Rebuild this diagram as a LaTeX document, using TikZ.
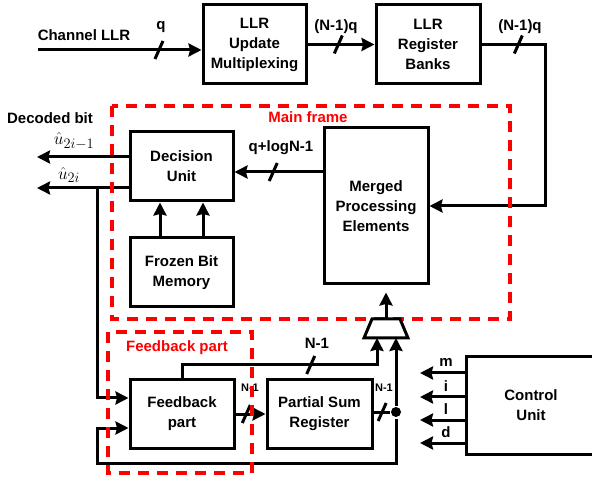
\documentclass[tikz,border=0pt]{standalone}
\usepackage{fontspec}
\setmainfont{Liberation Sans}
\usetikzlibrary{arrows.meta,calc}

\begin{document}
\begin{tikzpicture}[x=1pt, y=-1pt, >={Stealth[length=13pt,width=13pt,inset=1.5pt]},
  line width=3pt, font=\fontsize{15}{20}\selectfont\bfseries,
  blk/.style={draw, align=center, inner sep=0pt},
  frame/.style={draw=red, line width=3.4pt, dash pattern=on 11pt off 8pt},
  redlab/.style={text=red},
  small/.style={font=\fontsize{11}{13}\selectfont\bfseries},
  ulab/.style={font=\fontsize{19}{20}\selectfont},
  busmark/.pic={\draw[-, line width=3pt] (-4,9) -- (4,-9);}]
\useasboundingbox (0,0) rectangle (592,478);
% blocks
\node[blk, minimum width=103, minimum height=79] (upd) at (254.5,44.5) {LLR\\Update\\Multiplexing};
\node[blk, minimum width=104, minimum height=79] (reg) at (428,44.5) {LLR\\Register\\Banks};
\node[blk, minimum width=103, minimum height=69] (dec) at (181.5,166.5) {Decision\\Unit};
\node[blk, minimum width=103, minimum height=69] (frz) at (181.5,272.5) {Frozen Bit\\Memory};
\node[blk, minimum width=104, minimum height=156] (mpe) at (376,206) {Merged\\Processing\\Elements};
\node[blk, minimum width=104, minimum height=68] (fbp) at (182,414) {Feedback\\part};
\node[blk, minimum width=105, minimum height=68] (psr) at (319.5,414) {Partial Sum\\Register};
\node[blk, minimum width=130, minimum height=97] (ctl) at (531,405.5) {Control\\Unit};
\node[circle, fill, inner sep=0pt, minimum size=10] (dot) at (396,412) {};
% input side
\coordinate (chin) at (38,50);
\draw[->] (chin) -- pic[pos=.74]{busmark} (chin -| upd.west);
\node (llrin) at (84,35) {Channel LLR};
\node (qin) at (161,27) {q};
\draw[->] (upd) -- pic[pos=.46]{busmark} (reg);
\node (nq1) at (336,27) {(N-1)q};
\coordinate (rt) at (545,44.5);
\draw[->] (reg) -- pic[pos=.58]{busmark} (rt) |- (mpe);
\node (nq2) at (520,27) {(N-1)q};
% main frame
\draw[->] (mpe.west |- 0,172) -- pic[pos=.56]{busmark} (dec.east |- 0,172);
\node (qlog) at (281,148) {q+logN-1};
\foreach \x in {160,203} \draw[->] (frz.north -| \x,0) -- (dec.south -| \x,0);
\coordinate (o1) at (37,157); \coordinate (o2) at (37,188);
\draw[->] (dec.west |- o1) -- (o1);
\draw[->] (dec.west |- o2) -- (o2);
\node[ulab] (u1) at (74,141) {$\hat{u}_{2i-1}$};
\node[ulab] (u2) at (69,175) {$\hat{u}_{2i}$};
\node (dbit) at (50,118) {Decoded bit};
% mux corners
\coordinate (muxbl) at (364,338); \coordinate (muxtl) at (372,319);
\coordinate (muxtr) at (400,319); \coordinate (muxbr) at (408,338);
\coordinate (mux) at (386,319);
% feedback loop
\coordinate (br) at (97,188);
\draw[->] (br) |- (fbp.west |- 0,398);
\draw[->] (fbp) -- pic[pos=.36]{busmark} (psr);
\node[small] (n1a) at (250,388) {N-1};
\coordinate (fbtop) at (377,365);
\draw[->] (fbp.north) |- pic[pos=.83]{busmark} (fbtop) -- (fbtop |- muxbl);
\node (n1b) at (317,343) {N-1};
\draw (psr.east |- dot) -- pic[pos=.54]{busmark} (dot);
\node[small] (n1c) at (384,388) {N-1};
\draw[->] (dot) -- (dot |- muxbl);
\coordinate (lp) at (97,463);
\draw[->] (dot) |- (lp) |- (fbp.west |- 0,428);
% control signals
\foreach \y/\t in {373/m,397/i,420/l,443/d} {
  \coordinate (c\t) at (420,\y);
  \draw[->] (ctl.west |- c\t) -- (c\t);
  \node (l\t) at (446,\y-11) {\t};
}
% frames
\draw[frame] (112,106) rectangle (510,319);
\node[redlab] (mfl) at (308,117) {Main frame};
\draw[frame] (108,332) rectangle (252,473);
\node[redlab] (fbl) at (177,348) {Feedback part};
% mux
\draw[fill=white, line join=miter] (muxbl) -- (muxtl) -- (muxtr) -- (muxbr) -- cycle;
\draw[->, shorten >=7pt] (mux) -- (mux |- mpe.south);
\end{tikzpicture}
\end{document}
